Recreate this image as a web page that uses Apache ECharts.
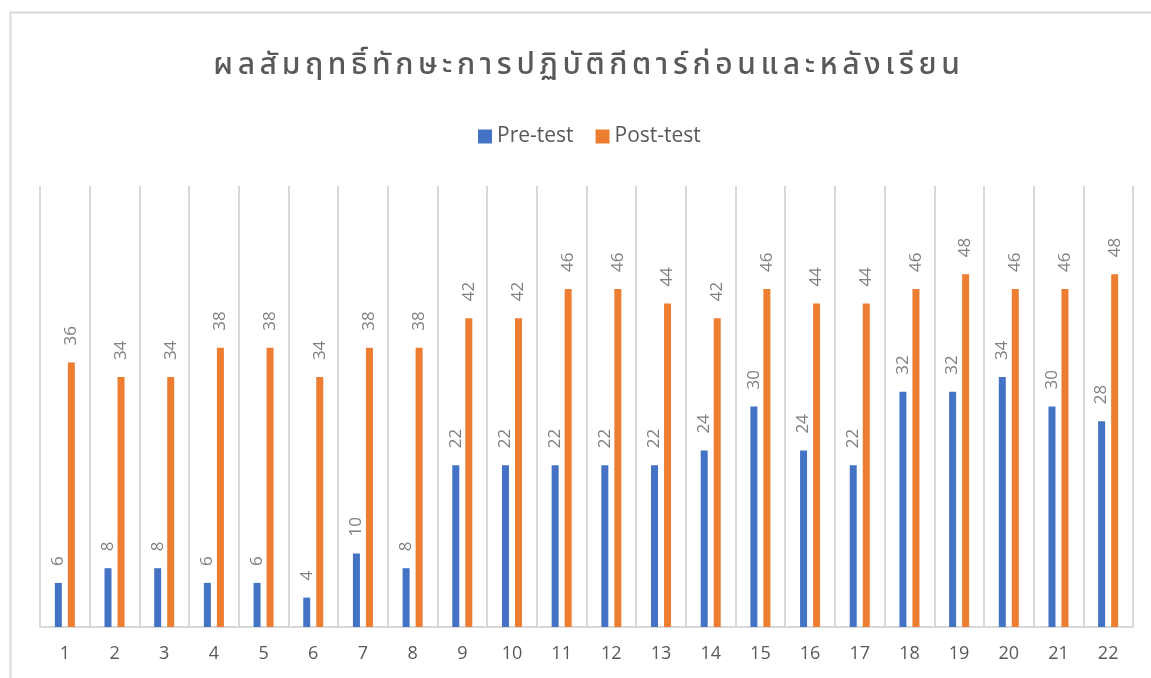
<!DOCTYPE html>
<html>
<head>
<meta charset="utf-8">
<script src="https://cdn.jsdelivr.net/npm/echarts@6/dist/echarts.min.js"></script>
<style>
  html, body { margin: 0; padding: 0; background: #fff; }
  #main { width: 1151px; height: 678px; }
</style>
</head>
<body>
<div id="main"></div>
<script>
const titleText = 'ผลสัมฤทธิ์ทักษะการปฏิบัติกีตาร์ก่อนและหลังเรียน';
const categories = ['1','2','3','4','5','6','7','8','9','10','11','12','13','14','15','16','17','18','19','20','21','22'];
const preTest = [6, 8, 8, 6, 6, 4, 10, 8, 22, 22, 22, 22, 22, 24, 30, 24, 22, 32, 32, 34, 30, 28];
const postTest = [36, 34, 34, 38, 38, 34, 38, 38, 42, 42, 46, 46, 44, 42, 46, 44, 44, 46, 48, 46, 46, 48];

const chart = echarts.init(document.getElementById('main'));

// the original title is letter-spaced; split into clusters so each gets a little padding
function spacedTitle(text) {
  if (typeof Intl === 'undefined' || !Intl.Segmenter) return text;
  const seg = new Intl.Segmenter('th', { granularity: 'grapheme' });
  return Array.from(seg.segment(text), s => '{c|' + s.segment + '}').join('');
}

const barLabel = {
  show: true,
  position: 'top',
  rotate: 90,
  align: 'left',
  verticalAlign: 'middle',
  distance: 17,
  color: '#808080',
  fontSize: 17,
  fontFamily: 'Open Sans, sans-serif'
};

const titleFont = {
  color: '#595959',
  fontSize: 30,
  fontWeight: 500,
  fontFamily: 'Noto Sans Thai, Noto Sans, sans-serif'
};

chart.setOption({
  animation: false,
  graphic: [
    {
      type: 'rect',
      shape: { x: 10.5, y: 12.5, width: 1160, height: 700 },
      style: { fill: 'none', stroke: '#d9d9d9', lineWidth: 2 },
      silent: true
    }
  ],
  title: {
    text: spacedTitle(titleText),
    left: 206,
    top: 48,
    textStyle: Object.assign({}, titleFont, {
      rich: { c: Object.assign({}, titleFont, { padding: [0, 2.3] }) }
    })
  },
  legend: {
    top: 121,
    left: 473,
    itemWidth: 14,
    itemHeight: 14,
    itemGap: 22,
    icon: 'rect',
    data: ['Pre-test', 'Post-test'],
    textStyle: { color: '#595959', fontSize: 21, fontFamily: 'Open Sans, sans-serif' }
  },
  grid: { left: 40, right: 18, top: 186, bottom: 51 },
  xAxis: {
    type: 'category',
    data: categories,
    axisLine: { lineStyle: { color: '#d9d9d9', width: 2 } },
    axisTick: { show: false },
    splitLine: { show: true, lineStyle: { color: '#d9d9d9', width: 2 } },
    axisLabel: { color: '#595959', fontSize: 18, margin: 18, fontFamily: 'Open Sans, sans-serif' }
  },
  yAxis: {
    type: 'value',
    min: 0,
    max: 60,
    show: false,
    splitLine: { show: false }
  },
  series: [
    {
      name: 'Pre-test',
      type: 'bar',
      data: preTest,
      barWidth: 7,
      barGap: '86%',
      itemStyle: { color: '#4472C4' },
      label: barLabel
    },
    {
      name: 'Post-test',
      type: 'bar',
      data: postTest,
      barWidth: 7,
      itemStyle: { color: '#ED7D31' },
      label: barLabel
    }
  ]
});
</script>
</body>
</html>
